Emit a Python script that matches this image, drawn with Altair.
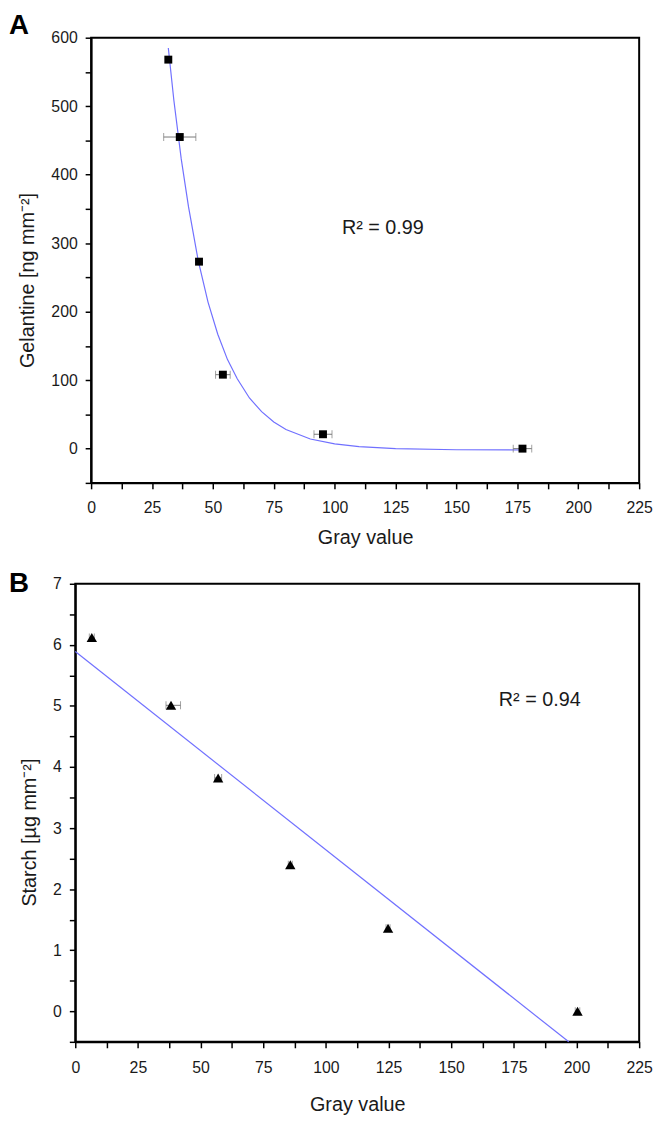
import altair as alt
import pandas as pd

FONT = "Liberation Sans"

# ---------------- Panel A: gelatine vs gray value ----------------
a_gray = [31.7, 36.4, 44.3, 54.1, 95.2, 177.1]
a_gel = [568, 455, 273, 108, 21, 0]
a_err = [0.0, 6.6, 0.0, 3.0, 3.7, 3.8]

a_fit_gray = [31.7, 34, 37, 40, 44, 48, 52, 56, 60, 65, 70, 75, 80, 90, 100, 110, 125, 150, 177]
a_fit_gel = [585, 508, 423, 353, 274, 214, 167, 130, 102, 74, 54, 39, 28, 14, 7, 3, 0, -1.6, -2]

# ---------------- Panel B: starch vs gray value ----------------
b_gray = [6.6, 38.2, 57.0, 85.8, 124.8, 200.4]
b_starch = [6.12, 5.01, 3.82, 2.40, 1.36, 0.0]
b_lo = [5.6, 36.2, 55.6, 85.0, 124.0, 199.5]
b_hi = [7.6, 42.0, 58.4, 86.6, 125.6, 201.3]

b_fit_gray = [0, 196.9]
b_fit_starch = [5.89, -0.5]

x_ticks = [i * 12.5 for i in range(19)]
a_y_ticks = [-50 + 50 * i for i in range(14)]
b_y_ticks = [-0.5 + 0.5 * i for i in range(16)]

df_a = pd.DataFrame({"gray": a_gray, "val": a_gel, "err": a_err})
df_a["lo"] = df_a["gray"] - df_a["err"]
df_a["hi"] = df_a["gray"] + df_a["err"]
df_a_fit = pd.DataFrame({"gray": a_fit_gray, "val": a_fit_gel})

df_b = pd.DataFrame({"gray": b_gray, "val": b_starch, "lo": b_lo, "hi": b_hi})
df_b_fit = pd.DataFrame({"gray": b_fit_gray, "val": b_fit_starch})

common_axis = dict(
    domainColor="black", domainWidth=2, tickColor="black", tickWidth=1.5,
    tickSize=6, tickCount=100, labelFont=FONT, labelFontSize=16, labelColor="#1a1a1a",
    titleFont=FONT, titleFontSize=20, titleFontWeight="normal", titleColor="#1a1a1a",
    grid=False, labelOverlap=False, labelFlush=False,
)


def panel(df, df_fit, ydom, yticks, ymod, ytitle, shape, msize, w, h,
          ytitle_y, xlab_pad, xtitle_pad, r2_text, r2_x, r2_y, letter, letter_x, letter_y):
    xs = alt.Scale(domain=[0, 225], nice=False, zero=False)
    ys = alt.Scale(domain=ydom, nice=False, zero=False)
    xax = alt.Axis(values=x_ticks, title="Gray value",
                   labelExpr="datum.value % 25 == 0 ? format(datum.value, 'd') : ''",
                   labelPadding=xlab_pad, titlePadding=xtitle_pad, **common_axis)
    yax = alt.Axis(values=yticks, title=ytitle,
                   labelExpr=f"datum.value >= 0 && datum.value % {ymod} == 0 ? format(datum.value, 'd') : ''",
                   labelPadding=8, titlePadding=13.5, titleY=ytitle_y, **common_axis)

    fit = alt.Chart(df_fit).mark_line(color="#7070ff", strokeWidth=1.2).encode(
        x=alt.X("gray:Q", scale=xs, axis=xax),
        y=alt.Y("val:Q", scale=ys, axis=yax),
    )
    ebar_df = df[df["hi"] - df["lo"] > 0]
    eb = alt.Chart(ebar_df)
    rule = eb.mark_rule(color="#777777", strokeWidth=1).encode(
        x="lo:Q", x2="hi:Q", y="val:Q")
    cap_lo = eb.mark_tick(color="#777777", orient="vertical", size=8, thickness=1).encode(
        x="lo:Q", y="val:Q")
    cap_hi = eb.mark_tick(color="#777777", orient="vertical", size=8, thickness=1).encode(
        x="hi:Q", y="val:Q")
    pts = alt.Chart(df).mark_point(shape=shape, filled=True, color="black", opacity=1,
                                   size=msize).encode(x="gray:Q", y="val:Q")
    r2 = alt.Chart(pd.DataFrame({"gray": [r2_x], "val": [r2_y], "t": [r2_text]})).mark_text(
        font=FONT, fontSize=20, color="#1a1a1a", align="left", baseline="middle"
    ).encode(x="gray:Q", y="val:Q", text="t:N")
    lab = alt.Chart(pd.DataFrame({"t": [letter]})).mark_text(
        font=FONT, fontSize=28, fontWeight="bold", color="black",
        align="left", baseline="alphabetic"
    ).encode(x=alt.value(letter_x), y=alt.value(letter_y), text="t:N")

    return alt.layer(fit, rule, cap_lo, cap_hi, pts, r2, lab).properties(
        width=w, height=h,
        view=alt.ViewBackground(stroke="black", strokeWidth=2, fill="white"))


def spacer():
    return alt.Chart(pd.DataFrame({"t": [""]})).mark_text().encode(
        x=alt.value(0), y=alt.value(0), text="t:N"
    ).properties(width=1, height=1, view=alt.ViewBackground(stroke="transparent", fill="transparent"))


chart_a = panel(df_a, df_a_fit, [-50, 600], a_y_ticks, 100, "Gelantine [ng mm⁻²]",
                "square", 64, 554, 450, 245, 11, 12, "R² = 0.99", 103, 322, "A", -83, -4)
chart_b = panel(df_b, df_b_fit, [-0.5, 7], b_y_ticks, 1, "Starch [µg mm⁻²]",
                "triangle-up", 110, 570, 463, 251, 12, 19, "R² = 0.94", 169, 5.1, "B", -67, 8)

row_a = alt.hconcat(spacer(), chart_a, spacing=0)
row_b = alt.hconcat(spacer(), chart_b, spacing=0)

chart = alt.vconcat(row_a, row_b, spacing=21).properties(
    padding={"left": -3, "top": -3, "right": 0, "bottom": 0}
).configure(background="white")

chart.save("out.html", embed_options={"renderer": "svg", "actions": False})
